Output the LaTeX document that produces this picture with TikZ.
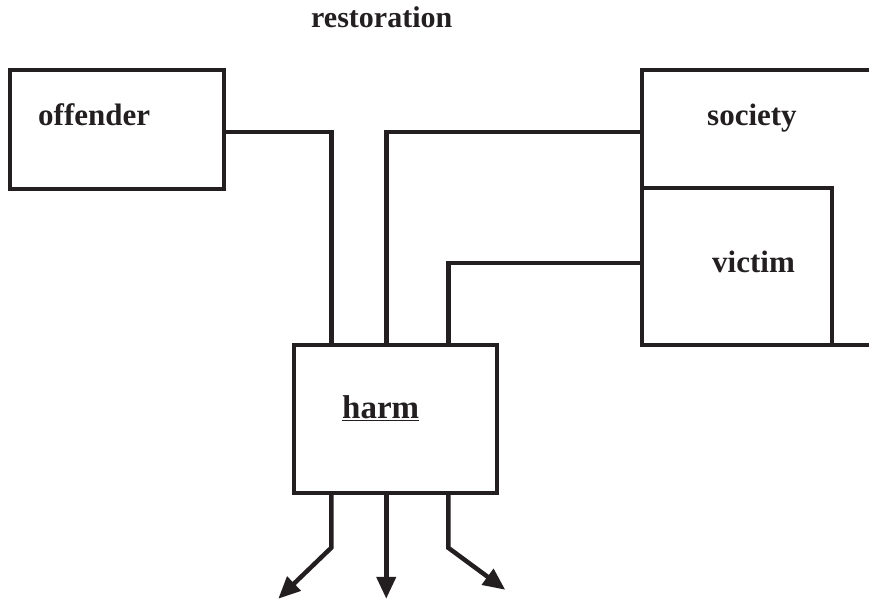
\documentclass[tikz,border=0pt]{standalone}
\usepackage{fontspec}
\setmainfont{Liberation Serif}
\usetikzlibrary{arrows.meta}
\definecolor{ink}{RGB}{35,31,32}
\begin{document}
\begin{tikzpicture}[x=1pt,y=-1pt,
  box/.style={draw=ink,line width=3.5pt,fill=none,inner sep=0pt},
  lbl/.style={anchor=base west,inner sep=0pt,text=ink,font=\fontsize{31}{37}\selectfont\bfseries},
  conn/.style={draw=ink,line width=4.5pt,line join=miter},
  arr/.style={conn,-{Triangle[length=22pt,width=19pt]}}]
\useasboundingbox (0,0) rectangle (869,598);
% boxes
\node[box,minimum width=214pt,minimum height=119pt] (offender) at (117,129.5) {};
\node[box,minimum width=260pt,minimum height=275pt] (society) at (772,207.5) {};
\node[box,minimum width=190pt,minimum height=157pt] (victim) at (737,266.5) {};
\node[box,minimum width=203pt,minimum height=148pt] (harm) at (395.5,419) {};
% labels
\node[lbl,font=\fontsize{30}{36}\selectfont\bfseries] (restT) at (311,27) {restoration};
\node[lbl] (offT) at (38,125) {offender};
\node[lbl] (socT) at (707,125) {society};
\node[lbl] (vicT) at (712,272) {victim};
\node[lbl,font=\fontsize{33}{40}\selectfont\bfseries] (harmT) at (342,418) {\underline{harm}};
% connectors into harm
\draw[conn] (offender.east |- 0,132) -| ([xshift=39pt]harm.north west);
\draw[conn] (society.west |- 0,132) -| ([xshift=94pt]harm.north west);
\draw[conn] (victim.west |- 0,263) -| ([xshift=156pt]harm.north west);
% outgoing arrows
\draw[arr] ([xshift=39pt]harm.south west) -- ++(0,53) -- ++(-53,51);
\draw[arr] ([xshift=94pt]harm.south west) -- ++(0,104);
\draw[arr] ([xshift=156pt]harm.south west) -- ++(0,53) -- ++(57,42);
\end{tikzpicture}
\end{document}
